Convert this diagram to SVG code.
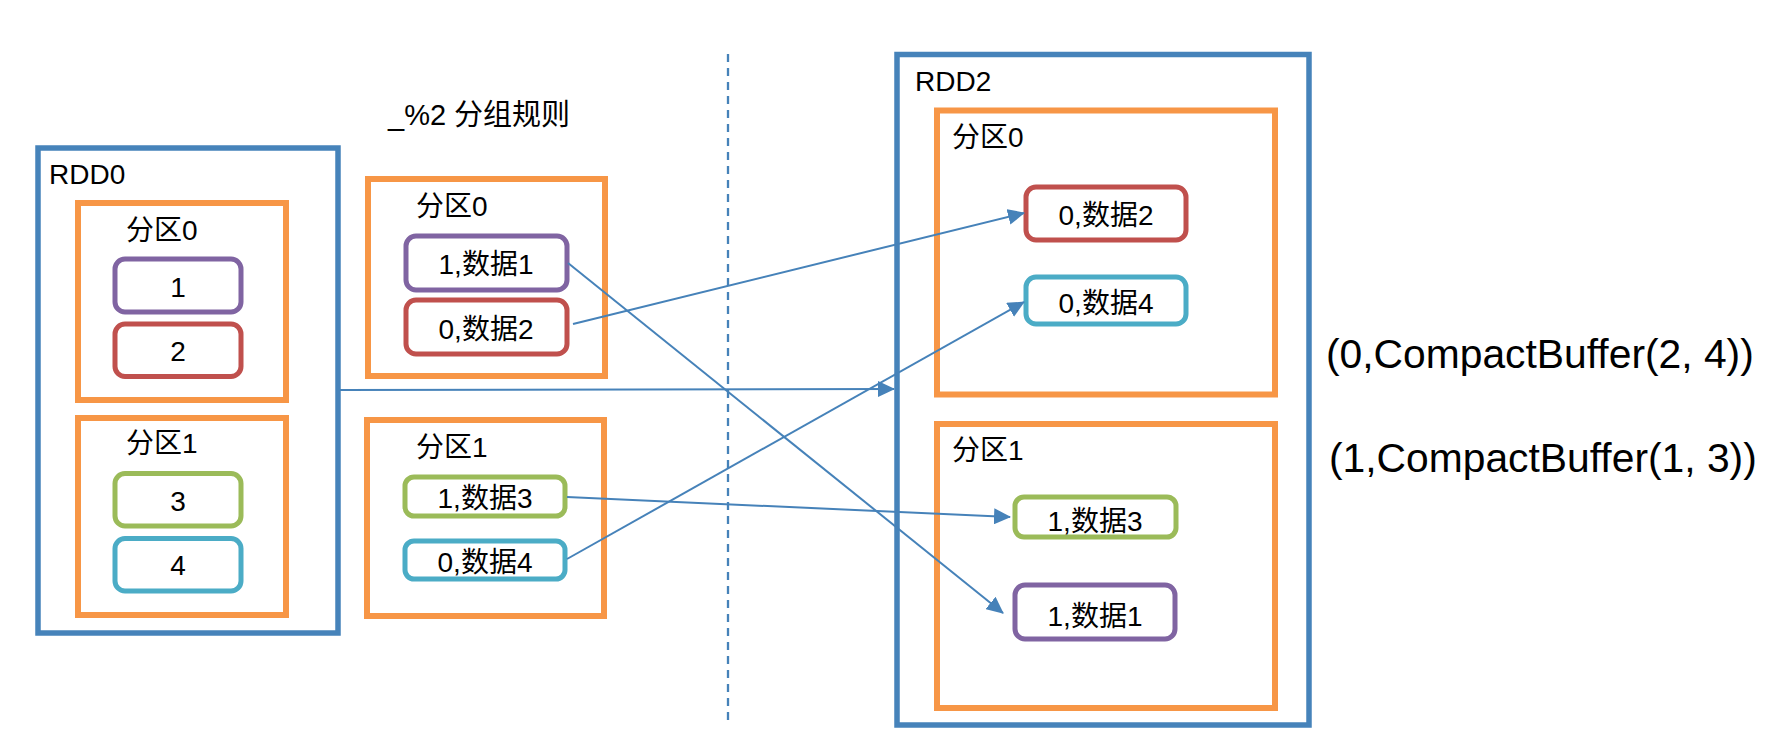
<svg xmlns="http://www.w3.org/2000/svg" width="1789" height="748" viewBox="0 0 1789 748">
<style>
  text { font-family: "Liberation Sans", "Noto Sans CJK SC", sans-serif; fill: #000; font-size: 28px; }
  .rdd { fill: none; stroke: #4683BA; stroke-width: 5.5; }
  .part { fill: none; stroke: #F79646; stroke-width: 6; }
  .item { fill: #fff; stroke-width: 5; }
  .purple { stroke: #8064A2; }
  .red { stroke: #C0504D; }
  .green { stroke: #9BBB59; }
  .cyan { stroke: #4BACC6; }
  .mid { text-anchor: middle; }
  .conn { fill: none; stroke: #4682B9; stroke-width: 2; marker-end: url(#arrow); }
  .result { font-size: 40.8px; }
</style>
<defs>
  <marker id="arrow" markerUnits="userSpaceOnUse" markerWidth="18" markerHeight="16" refX="16" refY="8" orient="auto">
    <path d="M0,0 L17,8 L0,16 z" fill="#4682B9"/>
  </marker>
</defs>
<rect width="1789" height="748" fill="#fff"/>

<g id="rdd0">
  <rect class="rdd" x="38" y="148" width="300" height="485"/>
  <text x="49" y="184">RDD0</text>
</g>
<g id="rdd0-p0">
  <rect class="part" x="78" y="203" width="208" height="197"/>
  <text x="126" y="240">分区0</text>
</g>
<g id="rdd0-item1">
  <rect class="item purple" x="115" y="259" width="126" height="53" rx="10"/>
  <text class="mid" x="178" y="297">1</text>
</g>
<g id="rdd0-item2">
  <rect class="item red" x="115" y="324" width="126" height="52.5" rx="10"/>
  <text class="mid" x="178" y="361">2</text>
</g>
<g id="rdd0-p1">
  <rect class="part" x="78" y="418" width="208" height="197"/>
  <text x="126" y="453">分区1</text>
</g>
<g id="rdd0-item3">
  <rect class="item green" x="115" y="473.5" width="126" height="52.5" rx="10"/>
  <text class="mid" x="178" y="511">3</text>
</g>
<g id="rdd0-item4">
  <rect class="item cyan" x="115" y="538.5" width="126" height="52.5" rx="10"/>
  <text class="mid" x="178" y="575">4</text>
</g>

<g id="rule-label">
  <text x="388" y="125" style="font-size:29px">_%2 分组规则</text>
</g>
<g id="mid-p0">
  <rect class="part" x="368" y="179" width="237" height="197"/>
  <text x="416" y="216">分区0</text>
</g>
<g id="mid-item1">
  <rect class="item purple" x="406" y="236" width="161" height="54" rx="10"/>
  <text class="mid" x="486" y="274">1,数据1</text>
</g>
<g id="mid-item2">
  <rect class="item red" x="406" y="300" width="161" height="54" rx="10"/>
  <text class="mid" x="486" y="339">0,数据2</text>
</g>
<g id="mid-p1">
  <rect class="part" x="367" y="420" width="237" height="196"/>
  <text x="416" y="457">分区1</text>
</g>
<g id="mid-item3">
  <rect class="item green" x="405" y="477" width="160" height="39" rx="9"/>
  <text class="mid" x="485" y="508">1,数据3</text>
</g>
<g id="mid-item4">
  <rect class="item cyan" x="405" y="541" width="160" height="38" rx="9"/>
  <text class="mid" x="485" y="572">0,数据4</text>
</g>

<g id="divider">
  <line x1="728" y1="54" x2="728" y2="720" stroke="#4682B9" stroke-width="2.3" stroke-dasharray="8 6"/>
</g>

<g id="rdd2">
  <rect class="rdd" x="897" y="54.5" width="412" height="670.5"/>
  <text x="915" y="91">RDD2</text>
</g>
<g id="rdd2-p0">
  <rect class="part" x="937" y="110.5" width="338" height="284"/>
  <text x="952" y="147">分区0</text>
</g>
<g id="rdd2-item2">
  <rect class="item red" x="1026" y="187" width="160" height="53" rx="10"/>
  <text class="mid" x="1106" y="225">0,数据2</text>
</g>
<g id="rdd2-item4">
  <rect class="item cyan" x="1026" y="277" width="160" height="47" rx="10"/>
  <text class="mid" x="1106" y="313">0,数据4</text>
</g>
<g id="rdd2-p1">
  <rect class="part" x="937" y="424" width="338" height="284"/>
  <text x="952" y="460">分区1</text>
</g>
<g id="rdd2-item3">
  <rect class="item green" x="1015" y="497" width="161" height="40" rx="9"/>
  <text class="mid" x="1095" y="531">1,数据3</text>
</g>
<g id="rdd2-item1">
  <rect class="item purple" x="1015" y="585" width="160" height="54" rx="10"/>
  <text class="mid" x="1095" y="626">1,数据1</text>
</g>

<g id="results">
  <text class="result" x="1326" y="368">(0,CompactBuffer(2, 4))</text>
  <text class="result" x="1329" y="472">(1,CompactBuffer(1, 3))</text>
</g>

<g id="connectors">
  <path class="conn" d="M340,390 L894,389"/>
  <path class="conn" d="M568,263 L1003,613"/>
  <path class="conn" d="M573,324 L1024,213"/>
  <path class="conn" d="M567,497 L1010,517"/>
  <path class="conn" d="M567,559 L1024,302"/>
</g>
</svg>
